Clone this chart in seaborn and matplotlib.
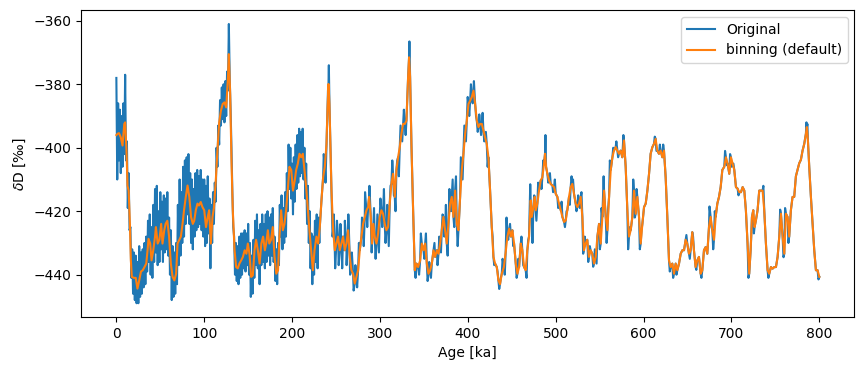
import numpy as np
import pandas as pd
import matplotlib
matplotlib.use("Agg")
import matplotlib.pyplot as plt
import seaborn as sns

# Original record, 0-231 ka, one value per ka
orig_early_age = np.arange(0, 232)
orig_early_val = [
    -378, -410, -386, -404, -388, -408, -390, -406, -386, -402,
    -377, -404, -398, -419, -408, -426, -425, -441, -432, -446,
    -433, -448, -434, -449, -436, -449, -431, -447, -433, -446,
    -432, -444, -430, -443, -428, -439, -423, -436, -421, -440,
    -425, -441, -418, -436, -413, -433, -412, -437, -420, -436,
    -414, -432, -417, -436, -415, -433, -416, -432, -414, -434,
    -422, -440, -426, -448, -431, -447, -433, -446, -430, -443,
    -418, -437, -410, -434, -414, -430, -406, -428, -404, -424,
    -403, -421, -402, -424, -408, -430, -410, -432, -413, -428,
    -408, -426, -407, -425, -409, -424, -407, -426, -410, -428,
    -410, -431, -412, -430, -409, -427, -416, -438, -418, -430,
    -414, -424, -411, -417, -400, -406, -393, -399, -385, -393,
    -381, -391, -380, -392, -379, -390, -376, -382, -361, -378,
    -388, -400, -414, -425, -428, -440, -430, -442, -431, -443,
    -428, -441, -427, -440, -427, -438, -426, -439, -427, -437,
    -424, -440, -430, -447, -434, -446, -429, -441, -423, -437,
    -421, -438, -426, -443, -424, -437, -421, -436, -424, -438,
    -421, -436, -420, -434, -422, -437, -421, -434, -419, -436,
    -428, -442, -432, -443, -430, -437, -418, -428, -415, -432,
    -419, -430, -414, -428, -408, -420, -399, -413, -400, -416,
    -405, -421, -403, -417, -399, -413, -396, -411, -394, -409,
    -395, -408, -394, -410, -400, -416, -405, -424, -412, -430,
    -420, -438, -427, -443, -428, -440, -423, -436, -421, -438,
    -422, -430,
]

# Spikes of the original record that stick out of the binned curve (> 231 ka)
spike_age = [
    236, 238, 240.8, 241.8, 244, 246, 247.5, 249, 251, 253, 255, 257, 260,
    262, 264, 266, 268, 270, 272, 274, 276, 279.5, 281.5, 283, 285.5, 288,
    290.5, 293.2, 295, 297, 298.8, 300.5, 302.5, 304.5, 306.3, 308.2, 310,
    312, 314, 315.8, 317.7, 319.6, 321.5, 323.4, 325.3, 327.2, 329.2, 331,
    333.5, 336.8, 340.5, 344.5, 346.5, 350.5, 352.3, 354.2, 356, 358, 362,
    365.5, 367.5, 369.4, 371.2, 373.2, 375, 377, 379, 380.8, 382.7, 384.5,
    386.5, 388.4, 390.3, 392, 394, 396, 397.8, 399.8, 401.6, 403.5, 405.5,
    406.9, 409.3, 411.2, 413, 415, 416.8, 418.7, 420.5, 422.5, 428.2, 430,
    433.8, 435.7, 437.6, 439.5, 442, 444, 446, 448, 451.6, 455.5, 457.4,
    461, 463, 466.8, 468.7, 471, 473.5, 475.5, 478, 480, 483.8, 485.8,
    488.3, 491.5, 493.4, 497, 499, 502.8, 506.7, 510.5, 512.3, 516, 518,
    519.7, 523.6, 525.5, 527.5, 529.3, 531.2, 533, 537, 538.8, 542.6,
    544.5, 546.5, 550.2, 552.1, 554.5, 557.9, 559.7, 561.6, 565.4, 569,
    571, 577, 582.4, 584.4, 588.2, 590, 592, 595.7, 597.6, 612.7, 614.6,
    618.5, 622.3, 629.8, 633.6, 637.4, 648.7, 652.6, 656.3, 660, 665.8,
    675, 677.2, 679.2, 681, 692.7, 694.6, 698.4, 700.3, 702.2, 708, 719.3,
    722.5, 725.5, 736.3, 742, 755.4, 759.2, 761, 764.8, 785.3, 786.4, 799,
]
spike_val = [
    -402, -411, -382, -374, -405, -428, -421, -438, -423, -437, -424, -438, -423,
    -437, -421, -440, -433, -445, -437, -444, -430, -422, -431, -414, -425, -412,
    -433, -419, -435, -421, -433, -416, -425, -413, -430, -418, -431,
    -412, -404, -415, -420, -404, -409, -393, -398, -388, -396, -385,
    -366.5, -410, -441, -440, -427, -435, -427, -442, -436, -441, -430,
    -437, -428, -433, -421, -428, -418, -434, -413, -420, -410, -425,
    -409, -431, -420, -403, -410, -393, -398, -384, -390, -380, -386,
    -379, -390, -395, -389.5, -396, -389, -398, -395, -406, -428, -437,
    -439, -444.5, -441, -435, -440, -422, -429, -424, -431, -441, -435,
    -428, -437, -441, -429, -411.5, -430, -415, -423, -411, -413, -404,
    -396, -411, -408, -414, -410, -419, -417, -425, -420, -418, -409,
    -410, -420, -415, -419, -414, -433.4, -428, -436, -431, -437.5,
    -432, -436.5, -432, -419, -409, -430, -419, -404, -400, -398,
    -403, -396, -432, -425, -410, -422, -413, -432, -426, -396.5, -401,
    -399, -399, -439, -441, -440, -427.5, -435, -428, -438.5, -441,
    -418.5, -425, -432, -420, -401, -405.5, -402, -406, -405, -415, -441,
    -428, -427, -412, -441, -419.5, -434.5, -419, -430, -392, -392.5, -441.5,
]

# Binned series ("binning (default)")
bin_age = [
    0, 1.3, 3, 5, 7, 9, 10, 11.5, 12.7, 14, 15.4, 16.5, 17.6, 20, 22, 24, 26,
    28, 30, 32, 34, 35.5, 36.6, 38.5, 40, 42, 44, 45, 47, 49, 51, 52.5, 54.5,
    56, 58, 60, 62, 64, 66, 68, 69.6, 71.5, 73.4, 75.3, 77, 79, 81, 83, 85,
    87, 88.6, 90.4, 92.3, 94, 96, 98, 100, 102, 104, 105.6, 107.5, 109.4,
    111, 113, 115, 117, 119, 121, 123, 125, 127, 128, 129.5, 131, 132.5,
    134.5, 136.3, 138.2, 140, 142, 144, 146, 148, 149.6, 151.5, 153.4,
    155.3, 157.2, 159, 161, 163, 165, 167, 169, 170.5, 172.4, 174, 176, 178,
    180, 182, 184, 185.6, 187.5, 189.4, 191.3, 193.2, 195, 197, 199, 201,
    203, 204.6, 206.5, 208.4, 210.3, 212.2, 214, 216, 218, 220, 222, 223.6,
    225.5, 227.7, 229.6, 231.5, 233.4, 235.3, 237.2, 239.1, 240.2, 241.4,
    242.5, 243.6, 244.8, 246.7, 248.6, 250.4, 252.3, 254.2, 256.1, 258,
    259.9, 261.8, 263.7, 265.6, 267.5, 269.4, 271.3, 273.2, 275.1, 277,
    278.9, 280.8, 282.7, 284.6, 286.5, 287.6, 289.5, 291, 292.5, 294, 296,
    297.9, 299.7, 301.6, 303.5, 305.4, 307.3, 309.2, 311.1, 313, 314.9,
    316.8, 318.7, 320.6, 322.5, 324.4, 326.3, 328.2, 330.1, 332, 333.1,
    334.3, 335.8, 337.7, 339.6, 341.5, 343.4, 345.7, 347.6, 349.5, 351.4,
    353.3, 355.2, 357.1, 359, 360.9, 362.8, 364.7, 366.6, 368.4, 370.3,
    372.2, 374.1, 376, 377.9, 379.8, 381.7, 383.6, 385.5, 387.4, 389.3,
    391.2, 393.1, 395, 396.9, 398.8, 400.7, 402.6, 404.5, 406.4, 408.3,
    410.2, 412.1, 414, 415.9, 417.7, 419.6, 421.5, 423.4, 425.3, 427.2,
    429.1, 431, 432.9, 434.8, 436.6, 438.6, 441, 443, 445, 447, 449, 450.7,
    452.6, 454.5, 456.4, 458.3, 460.2, 462, 464, 465.8, 467.7, 469.6,
    471.5, 472.7, 474.6, 476.1, 477.2, 479.1, 481, 482.9, 484.8, 486.7,
    487.8, 489, 490.5, 492.4, 494.3, 496.2, 498.1, 500, 501.9, 503.8,
    505.7, 507.6, 509.5, 511.4, 513.2, 515.1, 517, 518.9, 520.8, 522.7,
    524.6, 526.5, 528.4, 530.3, 532.1, 534, 535.9, 537.8, 539.7, 541.6,
    543.6, 545.5, 547.4, 549.3, 551.2, 553.1, 555, 556.9, 558.8, 560.7,
    562.6, 564.5, 566.3, 568.2, 570.1, 572, 573.9, 575.8, 577.7, 579.6,
    581.5, 583.4, 585.3, 587.2, 589.1, 591, 592.9, 594.8, 596.7, 598.6,
    600.5, 602.4, 604.3, 606.2, 608, 610, 611.8, 613.7, 615.6, 617.5,
    619.4, 621.3, 623.2, 625.1, 627, 628.9, 630.8, 632.7, 634.6, 636.5,
    638.4, 640.3, 642.2, 644.1, 646, 647.8, 649.7, 651.6, 653.5, 655.4,
    657.3, 659.2, 661.1, 663, 664.9, 666.8, 668.7, 670.6, 672.5, 674.4,
    676.3, 678.2, 680.1, 682, 683.9, 685.8, 687.7, 689.6, 691.8, 693.7,
    695.6, 697.5, 699.4, 701.3, 703.2, 705.1, 707, 708.9, 710.8, 712.7,
    714.6, 716.4, 718.3, 720.2, 721.8, 723.3, 724.8, 726.3, 727.8, 729.7,
    731.6, 733.5, 735.4, 737.3, 739.2, 741.1, 743, 744.9, 746.8, 748.7,
    750.6, 752.5, 754.4, 756.3, 758.2, 760.1, 762, 763.8, 765.7, 767.6,
    769.5, 771.4, 773.3, 775.2, 777.1, 779, 780.9, 782.8, 784.7, 785.8,
    787, 788.5, 790.4, 792.3, 794.2, 796.1, 798, 800,
]
bin_val = [
    -396, -395.6, -395.4, -396.7, -399.3, -392.5, -392, -400.8, -412, -413.5,
    -424, -435.5, -440.7, -441, -441, -444.4, -441.8, -439, -438.6, -437.6,
    -436.5, -432.3, -428.7, -430.2, -435.5, -432.3, -428, -425, -430.2, -429,
    -424, -430.2, -426, -424, -423, -428, -436.5, -440.7, -441.8, -439.7,
    -430.2, -429.1, -428, -424, -419.7, -415.5, -411.9, -415.5, -421.8, -424,
    -423, -419.7, -417.6, -418.2, -417.1, -418.7, -419.7, -425, -421.8, -419.7,
    -430.2, -421.8, -419, -411, -401, -392, -388.3, -386.2, -385.7, -387.3,
    -377.8, -370.5, -383, -404, -419.7, -432.3, -437.6, -438, -436.5, -435.5,
    -434.4, -432.3, -433.4, -430.2, -433.4, -440.7, -440.2, -432.3, -429,
    -432.3, -436.5, -430.2, -428, -432.3, -430.2, -426, -430.2, -429, -425,
    -434.4, -439.7, -438.6, -428, -419.7, -426, -424, -419.7, -413.5, -406,
    -407, -413.5, -410.3, -407, -405, -401.9, -403, -401.9, -407, -412.4,
    -419.7, -427, -433.4, -438.6, -432.3, -428, -430.2, -425, -416.6, -409.3,
    -406, -399, -388.3, -379.9, -386.2, -399, -413.5, -426, -432.3, -430.2,
    -428, -432.3, -430.2, -428, -432.3, -430.2, -426, -434.4, -438.6, -439.7,
    -442.8, -440.7, -438.6, -432.3, -428, -424, -421.8, -419.7, -418.7,
    -415.5, -421.8, -430.2, -424, -428, -430.2, -427, -421.8, -419.7, -420.8,
    -424, -426, -425, -417.6, -411.4, -408.2, -415.5, -407, -403, -399.8,
    -395.6, -392.5, -392.5, -391.5, -377.8, -371.5, -377.8, -399, -419.7,
    -438.6, -436.5, -437.6, -435.5, -430.2, -432.3, -430.2, -436.5, -439.7,
    -438.6, -436.5, -432.3, -434.4, -432.3, -433.4, -430.2, -426, -421.8,
    -426, -430.2, -424, -417.6, -415.5, -421.8, -413.5, -424, -426, -415.5,
    -407, -401.9, -395.6, -391.5, -386.2, -385.2, -384, -382, -386.2, -391.5,
    -393.5, -392.5, -392.5, -394.6, -396.7, -398.8, -403, -413.5, -425,
    -434.4, -436.5, -437.6, -441.8, -443, -439.7, -437.6, -433, -428, -425.5,
    -428, -426, -430.2, -436.5, -439.7, -437.6, -430.2, -432.3, -437.6,
    -438.6, -432.3, -428, -416.6, -421.8, -418.7, -415.5, -419.7, -417.6,
    -413.5, -410.3, -409.3, -405, -401.9, -406, -408.2, -410.3, -411.4,
    -411.9, -412.4, -414.5, -415.5, -417.6, -419.7, -421.8, -423.4, -422.9,
    -419.7, -415.5, -412.4, -411.4, -414.5, -417.6, -418.7, -417.6, -415.5,
    -421.8, -432.3, -430.2, -429, -434.4, -432.3, -433.4, -436.5, -434.4,
    -428, -424, -430.2, -421.8, -413.5, -421.8, -426, -415.5, -407, -403,
    -400.9, -399.8, -400.9, -401.9, -400.9, -403, -397.7, -406, -419.7, -428,
    -426, -421.8, -413.5, -420.8, -415.5, -421.8, -430.2, -424, -418.7,
    -417.6, -413.5, -408.2, -401.9, -399.8, -398.8, -397.2, -400.9, -401.9,
    -400.9, -403, -400.9, -409.3, -421.8, -435.5, -437.6, -436.5, -439.7,
    -436.5, -438.6, -436.5, -433.4, -432.3, -432.3, -429, -430.2, -433.4,
    -432.3, -426.6, -432.3, -437.6, -435.5, -434.4, -439.7, -438.6, -432.3,
    -431.3, -433.4, -425, -421.8, -426, -429, -421.8, -417.6, -415.5, -412.4,
    -407, -406, -403, -405, -408.2, -403, -405, -407, -412.4, -412.9, -414,
    -414, -412.4, -413.5, -419.7, -430.2, -439.7, -432.3, -421.8, -419.7,
    -425, -422.9, -419.7, -413.5, -413.5, -413.5, -419.7, -430.2, -438.6,
    -439.7, -437.6, -438.1, -437.6, -437.6, -434.4, -428, -420.8, -428,
    -433.4, -420.8, -421.8, -428, -419.7, -415.5, -415.5, -409, -407, -404.9,
    -403.8, -400.9, -398.8, -395.6, -393.5, -397.7, -406, -415.5, -423.9,
    -432.3, -438.6, -438.6, -440.7,
]

# original record: dense early part + (binned points and spikes) after 231 ka
late = pd.DataFrame({"age": bin_age, "val": bin_val})
late = late[late["age"] > 231]
late = pd.concat([late, pd.DataFrame({"age": spike_age, "val": spike_val})])
late = late.sort_values("age")
orig = pd.concat([pd.DataFrame({"age": orig_early_age, "val": orig_early_val}), late],
                 ignore_index=True)
binned = pd.DataFrame({"age": bin_age, "val": bin_val})

fig, ax = plt.subplots(figsize=(8.64, 3.71), dpi=100)
fig.subplots_adjust(left=0.094, right=0.989, top=0.973, bottom=0.145)

sns.lineplot(data=orig, x="age", y="val", ax=ax, color="C0", linewidth=1.5,
             estimator=None, sort=False, label="Original")
sns.lineplot(data=binned, x="age", y="val", ax=ax, color="C1", linewidth=1.5,
             estimator=None, sort=False, label="binning (default)")

ax.set_xlabel("Age [ka]")
ax.set_ylabel(r"$\delta$D [‰]")
ax.legend(loc="upper right")

fig.savefig("out.png", dpi=100)
